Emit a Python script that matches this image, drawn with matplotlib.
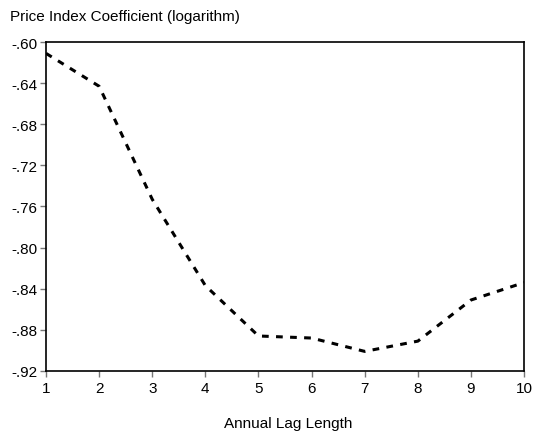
import matplotlib
matplotlib.use('Agg')
import matplotlib.pyplot as plt
from matplotlib.ticker import FuncFormatter

plt.rcParams['font.family'] = ['Liberation Sans', 'DejaVu Sans']

lags = [1, 2, 3, 4, 5, 6, 7, 8, 9, 10]
coef = [-0.611, -0.643, -0.753, -0.837, -0.886, -0.888, -0.901, -0.891, -0.851, -0.834]
yticks = [-0.92, -0.88, -0.84, -0.80, -0.76, -0.72, -0.68, -0.64, -0.60]


def fmt(v, pos):
    s = '%.2f' % v
    return s.replace('0.', '.')


fig = plt.figure(figsize=(5.33, 4.35), dpi=100)
ax = fig.add_axes([0.0863, 0.145, 0.897, 0.756])

ax.plot(lags, coef, color='black', linewidth=2.2, linestyle=(0, (2.2, 2.4)))

ax.set_xlim(1, 10)
ax.set_ylim(-0.92, -0.60)
ax.set_xticks(lags)
ax.set_yticks(yticks)
ax.yaxis.set_major_formatter(FuncFormatter(fmt))
ax.tick_params(direction='out', length=4.5, width=1, color='#777777', labelsize=11, pad=1.5)
ax.tick_params(axis='x', pad=2.5)

for s in ax.spines.values():
    s.set_linewidth(1.2)
    s.set_color('black')

fig.text(0.019, 0.961, 'Price Index Coefficient (logarithm)', fontsize=11, ha='left', va='center')
fig.text(0.54, 0.026, 'Annual Lag Length', fontsize=11, ha='center', va='center')

fig.savefig('out.png', dpi=100)
